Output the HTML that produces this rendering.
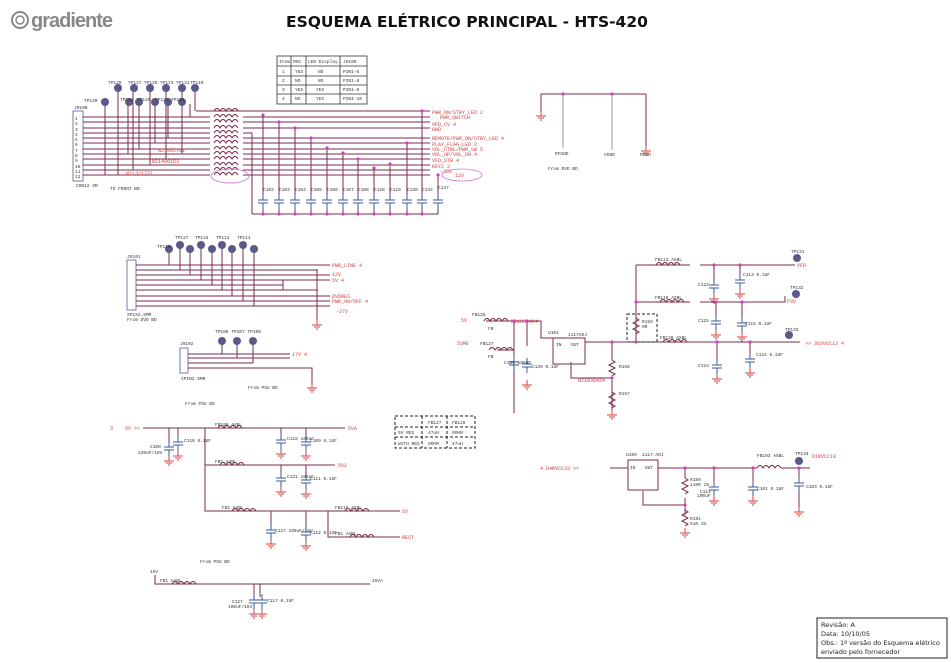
<!DOCTYPE html>
<html><head><meta charset="utf-8">
<style>
html,body{margin:0;padding:0;background:#fff;}
svg{display:block;font-family:"Liberation Mono",monospace;}
.w{stroke:#7a2c4c;stroke-width:1;fill:none}
.g{stroke:#999;stroke-width:1;fill:none}
.r{fill:#d04040;font-size:5px}
.k{fill:#333;font-size:4.5px}
</style></head><body>
<svg width="951" height="663" viewBox="0 0 951 663" xmlns="http://www.w3.org/2000/svg">
<defs>
<g id="gnd"><path d="M0 0v5M-5 5h10M-3 7h6M-1 9h2" stroke="#d04040" fill="none"/></g>
<g id="cap"><path d="M-5 0h10M-5 3h10M0 -6v6M0 3v6" stroke="#3a5a9a" fill="none"/></g>
<g id="ind"><path d="M0 0q3 -5 6 0q3 -5 6 0q3 -5 6 0q3 -5 6 0" stroke="#7a2c4c" fill="none"/></g>
<g id="res"><path d="M0 0l3 2l-6 3l6 3l-6 3l6 3l-3 2" stroke="#7a2c4c" fill="none"/></g>
<g id="tp"><circle r="4" fill="#5a5a8a"/></g>
<g id="d"><circle r="1.6" fill="#d040c0"/></g>
</defs>

<!-- logo -->
<circle cx="20" cy="20" r="8" fill="none" stroke="#888" stroke-width="2"/>
<circle cx="20" cy="20" r="4" fill="none" stroke="#888" stroke-width="1.5"/>
<text x="31" y="27" font-family="Liberation Sans,sans-serif" font-weight="bold" font-size="20" fill="#888" letter-spacing="-1">gradiente</text>
<text x="286" y="27" font-family="DejaVu Sans,Liberation Sans,sans-serif" font-weight="bold" font-size="15.5" fill="#111">ESQUEMA ELÉTRICO PRINCIPAL - HTS-420</text>

<!-- table -->
<g stroke="#333" fill="none" stroke-width="0.8">
<rect x="277" y="56" width="90" height="48"/>
<path d="M277 66h90M277 76h90M277 85h90M277 94h90M291 56v48M306 56v48M340 56v48"/>
</g>
<g class="k"><text x="279" y="63">Item</text><text x="293" y="63">MSC</text><text x="308" y="63">LED Display</text><text x="343" y="63">J9100</text>
<text x="282" y="73">1</text><text x="295" y="73">YES</text><text x="318" y="73">NO</text><text x="343" y="73">PIN1-6</text>
<text x="282" y="82">2</text><text x="295" y="82">NO</text><text x="318" y="82">NO</text><text x="343" y="82">PIN1-8</text>
<text x="282" y="91">3</text><text x="295" y="91">YES</text><text x="316" y="91">YES</text><text x="343" y="91">PIN1-9</text>
<text x="282" y="100">4</text><text x="295" y="100">NO</text><text x="316" y="100">YES</text><text x="343" y="100">PIN1-10</text></g>

<!-- Section 1 front board -->
<rect x="73" y="111" width="10" height="70" fill="none" stroke="#7a7aaa"/>
<text class="k" x="74" y="109">J9100</text>
<text class="k" x="76" y="187">CON12 SM</text>
<text class="k" x="110" y="190">TO FRONT BD</text>
<g class="w">
<path d="M196 111H430"/>
<path d="M83 117H210M243 117H430"/>
<path d="M83 122H210M243 122H430"/>
<path d="M83 128H210M243 128H430"/>
<path d="M83 133H210M243 133H252V214"/>
<path d="M83 138H210M243 138H430"/>
<path d="M83 143H210M243 143H430"/>
<path d="M83 149H210M243 149H430"/>
<path d="M83 154H210M243 154H430"/>
<path d="M83 159H210M243 159H430"/>
<path d="M83 165H210M243 165H430"/>
<path d="M83 170H210M243 170H430"/>
<path d="M83 175H210M243 175H430"/>
<path d="M252 214H438"/>
<path d="M263 115V194M279 122V194M295 128V194M311 138V194M327 148V194M343 153V194M358 159V194M374 168V194M390 164V194M407 143V194M422 111V194M438 175V194"/>
<path d="M263 203V214M279 203V214M295 203V214M311 203V214M327 203V214M343 203V214M358 203V214M374 203V214M390 203V214M407 203V214M422 203V214M438 203V214"/>
</g>
<g stroke="#7a2c4c"><path d="M118 92V175M133 92V170M150 92V165M166 92V159M182 92V154M195 92V111M105 104V175M128 104V154M139 104V149M155 104V143M168 104V138M182 104V128M190 104V117"/></g>
<g><use href="#tp" x="118" y="88"/><use href="#tp" x="134" y="88"/><use href="#tp" x="150" y="88"/><use href="#tp" x="166" y="88"/><use href="#tp" x="182" y="88"/><use href="#tp" x="195" y="88"/>
<use href="#tp" x="105" y="102"/><use href="#tp" x="129" y="102"/><use href="#tp" x="139" y="102"/><use href="#tp" x="155" y="102"/><use href="#tp" x="168" y="102"/><use href="#tp" x="182" y="102"/></g>
<g class="k"><text x="108" y="84">TP129</text><text x="128" y="84">TP127</text><text x="144" y="84">TP125</text><text x="160" y="84">TP123</text><text x="176" y="84">TP121</text><text x="190" y="84">TP119</text><text x="84" y="102">TP130</text><text x="120" y="101">TP128</text><text x="137" y="101">TP126</text><text x="155" y="101">TP124</text><text x="171" y="101">TP120</text></g>
<g class="k"><text x="75" y="120">1</text><text x="75" y="125">2</text><text x="75" y="131">3</text><text x="75" y="136">4</text><text x="75" y="141">5</text><text x="75" y="146">6</text><text x="75" y="152">7</text><text x="75" y="157">8</text><text x="75" y="162">9</text><text x="75" y="168">10</text><text x="75" y="173">11</text><text x="75" y="178">12</text></g>
<g>
<use href="#ind" x="214" y="111"/><use href="#ind" x="214" y="117"/><use href="#ind" x="214" y="122"/><use href="#ind" x="214" y="128"/><use href="#ind" x="214" y="133"/><use href="#ind" x="214" y="138"/><use href="#ind" x="214" y="143"/><use href="#ind" x="214" y="149"/><use href="#ind" x="214" y="154"/><use href="#ind" x="214" y="159"/><use href="#ind" x="214" y="165"/><use href="#ind" x="214" y="170"/><use href="#ind" x="214" y="175"/>
</g>
<ellipse cx="230" cy="176" rx="19" ry="7" fill="none" stroke="#d070d0" stroke-width="0.8"/>
<text class="r" x="158" y="152">N21092791</text><text class="r" x="152" y="163">N21490153</text><text class="r" x="126" y="175">N21321771</text>
<g>
<use href="#cap" x="263" y="200"/><use href="#cap" x="279" y="200"/><use href="#cap" x="295" y="200"/><use href="#cap" x="311" y="200"/><use href="#cap" x="327" y="200"/><use href="#cap" x="343" y="200"/><use href="#cap" x="358" y="200"/><use href="#cap" x="374" y="200"/><use href="#cap" x="390" y="200"/><use href="#cap" x="407" y="200"/><use href="#cap" x="422" y="200"/><use href="#cap" x="438" y="200"/>
</g>
<g class="k"><text x="263" y="191">C102</text><text x="279" y="191">C103</text><text x="295" y="191">C104</text><text x="311" y="191">C105</text><text x="327" y="191">C106</text><text x="343" y="191">C107</text><text x="358" y="191">C108</text><text x="374" y="191">C128</text><text x="390" y="191">C129</text><text x="407" y="191">C130</text><text x="422" y="191">C134</text><text x="438" y="189">C137</text></g>
<g fill="#d040c0"><circle cx="263" cy="115" r="1.6"/><circle cx="279" cy="122" r="1.6"/><circle cx="295" cy="128" r="1.6"/><circle cx="311" cy="138" r="1.6"/><circle cx="327" cy="148" r="1.6"/><circle cx="343" cy="153" r="1.6"/><circle cx="358" cy="159" r="1.6"/><circle cx="374" cy="168" r="1.6"/><circle cx="390" cy="164" r="1.6"/><circle cx="407" cy="143" r="1.6"/><circle cx="422" cy="111" r="1.6"/><circle cx="438" cy="175" r="1.6"/>
<circle cx="263" cy="214" r="1.6"/><circle cx="279" cy="214" r="1.6"/><circle cx="295" cy="214" r="1.6"/><circle cx="311" cy="214" r="1.6"/><circle cx="327" cy="214" r="1.6"/><circle cx="343" cy="214" r="1.6"/><circle cx="358" cy="214" r="1.6"/><circle cx="374" cy="214" r="1.6"/><circle cx="390" cy="214" r="1.6"/><circle cx="407" cy="214" r="1.6"/><circle cx="422" cy="214" r="1.6"/></g>
<g class="r"><text x="432" y="114">PWR_ON/STBY_LED   2</text><text x="440" y="119">PWR_SWITCH</text><text x="432" y="126">VFD_CV    4</text><text x="432" y="131">GND</text>
<text x="432" y="140">REMOTE/PWR_ON/STBY_LED 4</text><text x="432" y="146">PLAY_FLAG_LED  2</text><text x="432" y="151">VOL_CTRL/PWR_SW  5</text><text x="432" y="156">VOL_UP/VOL_DN   4</text><text x="432" y="162">VFD_STB    4</text><text x="432" y="168">KEY2    2</text><text x="440" y="173">-25V</text></g>
<ellipse cx="462" cy="175" rx="20" ry="6" fill="none" stroke="#d070d0" stroke-width="0.8"/>
<text class="r" x="455" y="177">12V</text>

<!-- top-right ground bus -->
<g class="w"><path d="M541 94H646M541 94V111M646 94V148"/></g>
<g class="g"><path d="M563 94V148M612 94V150"/></g>
<use href="#gnd" x="541" y="111"/><use href="#gnd" x="646" y="146"/>
<g fill="#d040c0"><circle cx="563" cy="94" r="1.6"/><circle cx="612" cy="94" r="1.6"/></g>
<g class="k"><text x="555" y="155">RFGND</text><text x="604" y="156">VGND</text><text x="640" y="156">MGND</text><text x="548" y="170">From DVD BD</text></g>

<!-- Section 2 J101 -->
<rect x="127" y="260" width="9" height="50" fill="none" stroke="#7a7aaa"/>
<text class="k" x="127" y="258">J9101</text>
<text class="k" x="127" y="316">XP2X2.5MM</text><text class="k" x="127" y="321">From DVD BD</text>
<g class="w"><path d="M136 265H330M136 270H318M136 275H330M136 280H330M136 285H283M136 290H318M136 296H330M136 301H330M136 306H330M317 270V320M283 280V290"/></g>
<g stroke="#7a2c4c"><path d="M169 250V265M180 246V270M190 250V275M201 246V280M212 250V285M222 246V290M232 250V296M243 246V301M254 250V306"/></g>
<g><use href="#tp" x="169" y="249"/><use href="#tp" x="180" y="245"/><use href="#tp" x="190" y="249"/><use href="#tp" x="201" y="245"/><use href="#tp" x="212" y="249"/><use href="#tp" x="222" y="245"/><use href="#tp" x="232" y="249"/><use href="#tp" x="243" y="245"/><use href="#tp" x="254" y="249"/></g>
<g class="k"><text x="157" y="248">TP118</text><text x="175" y="239">TP127</text><text x="195" y="239">TP115</text><text x="216" y="239">TP113</text><text x="237" y="239">TP111</text></g>
<use href="#gnd" x="317" y="320"/>
<g class="r"><text x="332" y="267">PWR_LINE   4</text><text x="332" y="276">12V</text><text x="332" y="282">5V     4</text><text x="332" y="298">DVDRES</text><text x="332" y="303">PWR_ON/OFF 4</text><text x="336" y="313">-27V</text></g>

<!-- Section 3 small conn -->
<rect x="180" y="348" width="8" height="25" fill="none" stroke="#7a7aaa"/>
<text class="k" x="180" y="345">J9102</text><text class="k" x="181" y="380">4PIN2.5MM</text>
<g class="w"><path d="M188 354H290M188 358H290M188 363H253M188 368H312V385"/></g>
<g stroke="#7a2c4c"><path d="M222 344V354M237 344V358M253 344V363"/></g>
<use href="#tp" x="222" y="341"/><use href="#tp" x="237" y="341"/><use href="#tp" x="253" y="341"/>
<g class="k"><text x="215" y="333">TP106 TP107 TP108</text><text x="248" y="389">From PSU BD</text><text x="185" y="405">From PSU BD</text></g>
<use href="#gnd" x="312" y="383"/><text class="r" x="292" y="356">17V       4</text>

<!-- Section 4 power filters -->
<g class="w">
<path d="M143 428H345"/><path d="M205 428V511H345"/><path d="M205 465H335"/><path d="M328 511V537H400"/>
<path d="M169 428V445M178 428V440M281 428V438M306 428V440M281 465V476M306 465V478M271 511V528M306 511V530"/>
</g>
<use href="#ind" x="218" y="428"/><use href="#ind" x="220" y="465"/><use href="#ind" x="232" y="511"/><use href="#ind" x="345" y="511"/><use href="#ind" x="350" y="537"/>
<g class="w"><path d="M345 511H400"/></g>
<use href="#cap" x="169" y="447"/><use href="#cap" x="178" y="442"/><use href="#cap" x="281" y="440"/><use href="#cap" x="306" y="442"/><use href="#cap" x="281" y="478"/><use href="#cap" x="306" y="480"/><use href="#cap" x="271" y="530"/><use href="#cap" x="306" y="532"/>
<use href="#gnd" x="169" y="456"/><use href="#gnd" x="178" y="451"/><use href="#gnd" x="281" y="449"/><use href="#gnd" x="306" y="451"/><use href="#gnd" x="281" y="487"/><use href="#gnd" x="306" y="489"/><use href="#gnd" x="271" y="539"/><use href="#gnd" x="306" y="541"/>
<g class="r"><text x="110" y="430">3</text><text x="125" y="430">5V  &gt;&gt;</text><text x="348" y="430">5VA</text><text x="338" y="467">5V2</text><text x="402" y="513">5V</text><text x="402" y="539">REST</text></g>
<g class="k"><text x="150" y="448">C108</text><text x="138" y="454">220uF/10V</text><text x="184" y="442">C110 0.1UF</text><text x="215" y="426">FB108   AXBL</text><text x="287" y="440">C118 100uF</text><text x="310" y="442">C109 0.1UF</text><text x="215" y="463">FB1   AXBL</text><text x="287" y="478">C121 100uF</text><text x="310" y="480">C111 0.1UF</text><text x="222" y="509">FB1    AXBL</text><text x="275" y="532">C127 100uF/16V</text><text x="310" y="534">C112 0.1UF</text><text x="335" y="509">FB115  AXBL</text><text x="335" y="535">FB1    AXBL</text><text x="200" y="563">From PSU BD</text></g>

<!-- Section 5 15V -->
<g class="w"><path d="M155 575V584H370M254 584V597M260 584V597"/></g>
<use href="#ind" x="172" y="584"/>
<use href="#cap" x="254" y="600"/><use href="#cap" x="262" y="600"/><use href="#gnd" x="254" y="609"/><use href="#gnd" x="262" y="609"/>
<g class="k"><text x="150" y="573">15V</text><text x="160" y="582">FB1    AXBL</text><text x="372" y="582">15VA</text><text x="232" y="603">C127</text><text x="228" y="608">100uF/16V</text><text x="267" y="602">C117 0.1UF</text></g>

<!-- dashed table -->
<g stroke="#222" stroke-width="1" stroke-dasharray="3,2" fill="none"><rect x="395" y="416" width="80" height="32"/><path d="M395 427H475M395 437H475M422 416V448M447 416V448"/></g>
<g class="k"><text x="407" y="424">&#8203;</text><text x="428" y="424">FB127</text><text x="452" y="424">FB126</text><text x="398" y="434">5V REG</text><text x="428" y="434">47uH</text><text x="452" y="434">0OHM</text><text x="398" y="445">WITH REG</text><text x="428" y="445">0OHM</text><text x="452" y="445">47uH</text></g>

<!-- 5V regulator section -->
<g class="w">
<path d="M486 321H514V413M497 350H514M514 321H541V338H558"/><path d="M527 321V346"/>
<path d="M585 342H636H700H800"/><path d="M612 342V360M612 380V400M612 400V410M571 362V378H612"/>
<path d="M636 265V342M636 265H690M700 265H795M636 302H690M700 302H785V296"/>
<path d="M714 265V282M740 265V277M716 302V318M742 302V320M717 342V362M750 342V356"/>
</g>
<use href="#ind" x="484" y="321"/><use href="#ind" x="489" y="350"/>
<use href="#ind" x="656" y="265"/><use href="#ind" x="660" y="302"/><use href="#ind" x="663" y="342"/>
<rect x="553" y="338" width="32" height="26" fill="none" stroke="#7a2c4c"/>
<g class="k"><text x="556" y="346">IN</text><text x="571" y="346">OUT</text><text x="548" y="334">U101</text><text x="568" y="336">1117ADJ</text></g>
<use href="#res" x="612" y="360"/><use href="#res" x="612" y="392"/><use href="#res" x="636" y="318"/>
<use href="#gnd" x="612" y="410"/>
<rect x="627" y="314" width="30" height="28" fill="none" stroke="#222" stroke-dasharray="3,2"/>
<use href="#cap" x="514" y="362"/><use href="#cap" x="527" y="364"/><use href="#gnd" x="527" y="380"/>
<use href="#cap" x="714" y="285"/><use href="#cap" x="740" y="280"/><use href="#cap" x="716" y="321"/><use href="#cap" x="742" y="323"/><use href="#cap" x="717" y="365"/><use href="#cap" x="750" y="359"/>
<use href="#gnd" x="714" y="294"/><use href="#gnd" x="740" y="289"/><use href="#gnd" x="716" y="330"/><use href="#gnd" x="742" y="332"/><use href="#gnd" x="717" y="374"/><use href="#gnd" x="750" y="368"/>
<use href="#tp" x="797" y="258"/><use href="#tp" x="796" y="294"/><use href="#tp" x="789" y="335"/>
<g class="k"><text x="472" y="316">FB126</text><text x="488" y="330">FB</text><text x="480" y="345">FB127</text><text x="488" y="358">FB</text><text x="504" y="364">C135 100uF</text><text x="532" y="368">C136 0.1UF</text><text x="619" y="368">R156</text><text x="619" y="395">R157</text><text x="642" y="323">R158</text><text x="642" y="328">0R</text><text x="655" y="261">FB113 AXBL</text><text x="655" y="299">FB119 AXBL</text><text x="660" y="339">FB120 AXBL</text><text x="698" y="286">C122</text><text x="743" y="276">C113 0.1UF</text><text x="698" y="322">C125</text><text x="745" y="325">C115 0.1UF</text><text x="698" y="367">C124</text><text x="756" y="356">C116 0.1UF</text><text x="791" y="253">TP131</text><text x="790" y="289">TP132</text><text x="785" y="331">TP133</text></g>
<g class="r"><text x="461" y="322">5V</text><text x="457" y="345">5VRE</text><text x="511" y="323">N21030424</text><text x="578" y="382">N21030424</text><text x="797" y="267">VFD</text><text x="787" y="303">P3V</text><text x="805" y="345">&gt;&gt; 3V3VCC13    4</text></g>
<g fill="#d040c0"><circle cx="514" cy="321" r="1.6"/><circle cx="527" cy="321" r="1.6"/><circle cx="612" cy="342" r="1.6"/><circle cx="636" cy="342" r="1.6"/><circle cx="636" cy="302" r="1.6"/><circle cx="714" cy="265" r="1.6"/><circle cx="740" cy="265" r="1.6"/><circle cx="716" cy="302" r="1.6"/><circle cx="742" cy="302" r="1.6"/><circle cx="717" cy="342" r="1.6"/><circle cx="750" cy="342" r="1.6"/><circle cx="612" cy="378" r="1.6"/></g>

<!-- 3V3 / 1V8 section -->
<g class="w"><path d="M610 468H628M658 468H757M781 468H810M685 468V478M685 498V515M643 491V505H685M714 468V484M753 468V484M799 468V480"/></g>
<rect x="628" y="460" width="30" height="30" fill="none" stroke="#7a2c4c"/>
<g class="k"><text x="630" y="469">IN</text><text x="645" y="469">OUT</text><text x="626" y="456">U190</text><text x="642" y="456">1117-ADJ</text><text x="690" y="481">R189</text><text x="690" y="486">110R 1%</text><text x="690" y="520">R191</text><text x="690" y="525">510 1%</text><text x="700" y="493">C114</text><text x="697" y="497">100uF</text><text x="757" y="490">C101 0.1UF</text><text x="757" y="457">FB103 AXBL</text><text x="795" y="455">TP134</text><text x="806" y="488">C103 0.1UF</text></g>
<use href="#res" x="685" y="478"/><use href="#res" x="685" y="510"/><use href="#gnd" x="685" y="528"/>
<use href="#ind" x="757" y="468"/>
<use href="#cap" x="714" y="487"/><use href="#cap" x="753" y="487"/><use href="#cap" x="799" y="483"/>
<use href="#gnd" x="714" y="496"/><use href="#gnd" x="753" y="496"/><use href="#gnd" x="799" y="507"/>
<g class="w"><path d="M799 492V507"/></g>
<use href="#tp" x="799" y="461"/>
<g class="r"><text x="540" y="470">4  D4RVCC33  &gt;&gt;</text><text x="812" y="458">D1RVCC18</text></g>
<g fill="#d040c0"><circle cx="685" cy="468" r="1.6"/><circle cx="714" cy="468" r="1.6"/><circle cx="753" cy="468" r="1.6"/><circle cx="799" cy="468" r="1.6"/><circle cx="685" cy="505" r="1.6"/></g>

<!-- revision box -->
<rect x="817" y="618" width="130" height="40" fill="#fff" stroke="#222" stroke-width="1"/>
<g font-family="DejaVu Sans,Liberation Sans,sans-serif" font-size="6.5" fill="#222"><text x="821" y="627">Revisão:  A</text><text x="821" y="636">Data:  10/10/05</text><text x="821" y="645">Obs.: 1º versão do Esquema elétrico</text><text x="821" y="654">enviado pelo fornecedor</text></g>
</svg>
</body></html>
